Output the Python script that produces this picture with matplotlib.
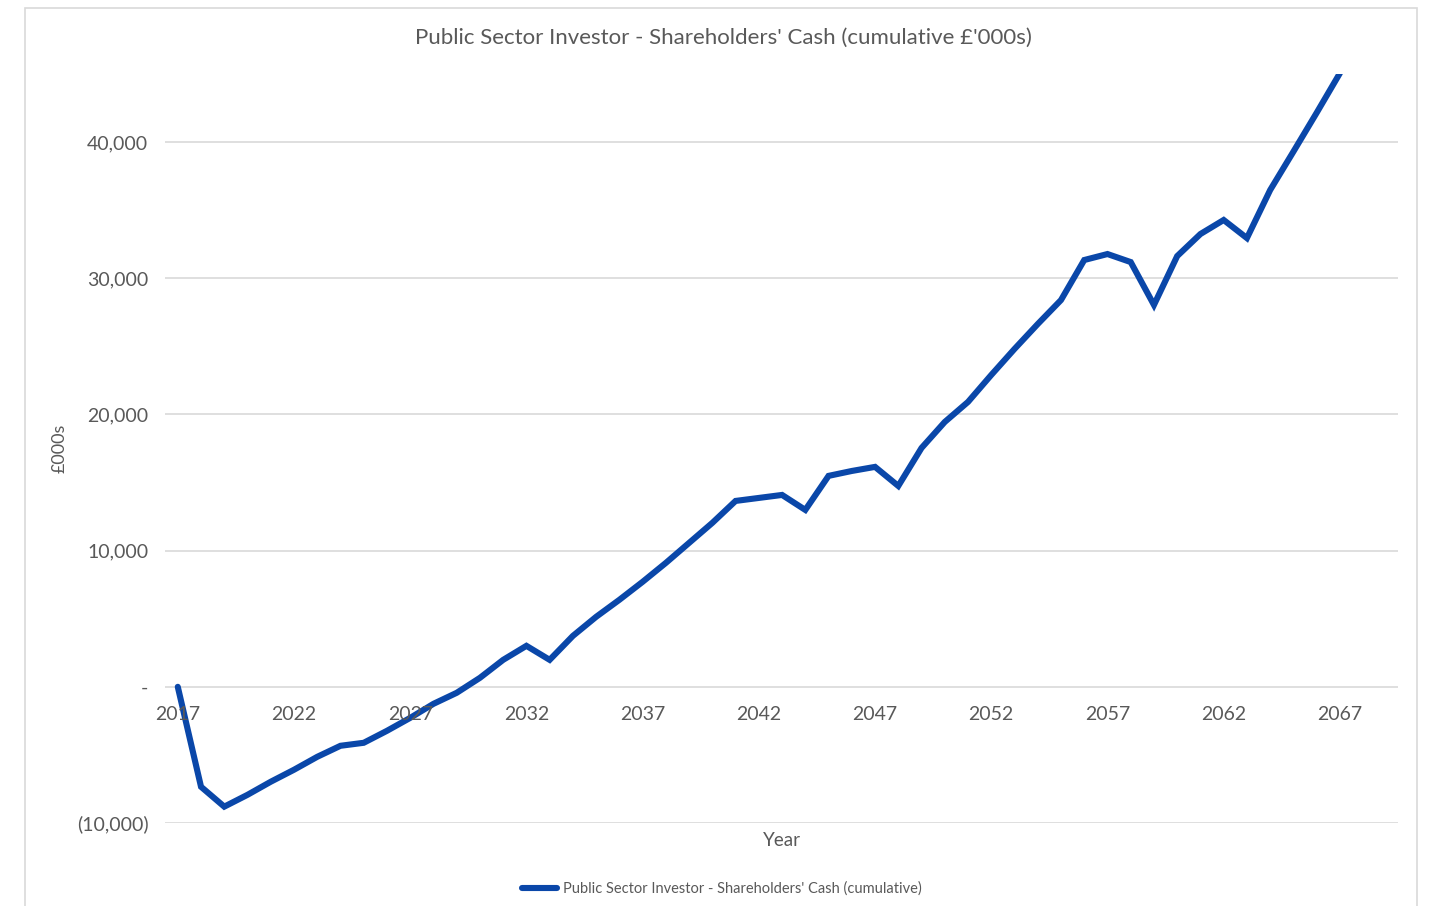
import numpy as np
import matplotlib.pyplot as plt
from matplotlib.patches import Rectangle
from matplotlib.ticker import FuncFormatter

# cumulative shareholders' cash, £'000s, one value per year
years = np.arange(2017, 2068)
cash = [
    0, -7340, -8800, -7930, -6970, -6090, -5140, -4330, -4110, -3230,
    -2280, -1250, -440, 660, 1980, 3010, 1980, 3740, 5140, 6390,
    7710, 9100, 10570, 12040, 13650, 13870, 14090, 12990, 15490, 15850,
    16150, 14750, 17540, 19450, 20920, 22900, 24810, 26640, 28400, 31340,
    31780, 31190, 28040, 31630, 33250, 34280, 32950, 36480, 39300, 42150,
    45060,
]
x_ticks = np.arange(2017, 2068, 5)
y_ticks = [-10000, 0, 10000, 20000, 30000, 40000]

grey = "#595959"
blue = "#0a47a9"

plt.rcParams["font.family"] = ["Lato", "DejaVu Sans"]

fig = plt.figure(figsize=(14.31, 9.06), dpi=100)
ax = fig.add_axes([165 / 1431, (906 - 823) / 906, (1398 - 165) / 1431, (823 - 74) / 906])

# outer chart border
fig.patches.append(Rectangle((25 / 1431, -0.01), (1417 - 25) / 1431, (906 - 8) / 906 + 0.01,
                             transform=fig.transFigure, fill=False,
                             edgecolor="#d9d9d9", linewidth=1.2))

ax.plot(years, cash, color=blue, linewidth=4.4, solid_joinstyle="miter", solid_capstyle="round",
        label="Public Sector Investor - Shareholders' Cash (cumulative)")

ax.set_xlim(2016.45, 2069.5)
ax.set_ylim(-10000, 45000)
ax.set_xticks(x_ticks)
ax.set_yticks(y_ticks)


def fmt(v, pos):
    if v == 0:
        return "-"
    if v < 0:
        return "({:,.0f})".format(-v)
    return "{:,.0f}".format(v)


ax.yaxis.set_major_formatter(FuncFormatter(fmt))
ax.grid(axis="y", color="#d9d9d9", linewidth=1.2)
ax.set_axisbelow(True)
for s in ax.spines.values():
    s.set_visible(False)
ax.tick_params(axis="both", length=0, labelsize=14, labelcolor=grey)
ax.tick_params(axis="y", pad=12)

# year labels hang just under the zero line rather than at the bottom
ax.set_xticklabels([])
for yr in x_ticks:
    ax.annotate(str(yr), xy=(yr, 0), xycoords="data", xytext=(0, -28),
                textcoords="offset pixels", ha="center", va="center",
                fontsize=14, color=grey)

fig.text(723 / 1431, 1 - 38 / 906, "Public Sector Investor - Shareholders' Cash (cumulative £'000s)",
         ha="center", va="center", fontsize=16, color=grey)
fig.text(60 / 1431, 1 - 448 / 906, "£000s", ha="center", va="center", rotation=90,
         fontsize=13, color=grey)
fig.text(782 / 1431, 1 - 841 / 906, "Year", ha="center", va="center", fontsize=13.5, color=grey)

ax.legend(loc="center", bbox_to_anchor=(722 / 1431, 1 - 889 / 906), bbox_transform=fig.transFigure,
          frameon=False, fontsize=10.5, labelcolor=grey, handlelength=2.4, handletextpad=0.4)

fig.savefig("out.png", dpi=100)
